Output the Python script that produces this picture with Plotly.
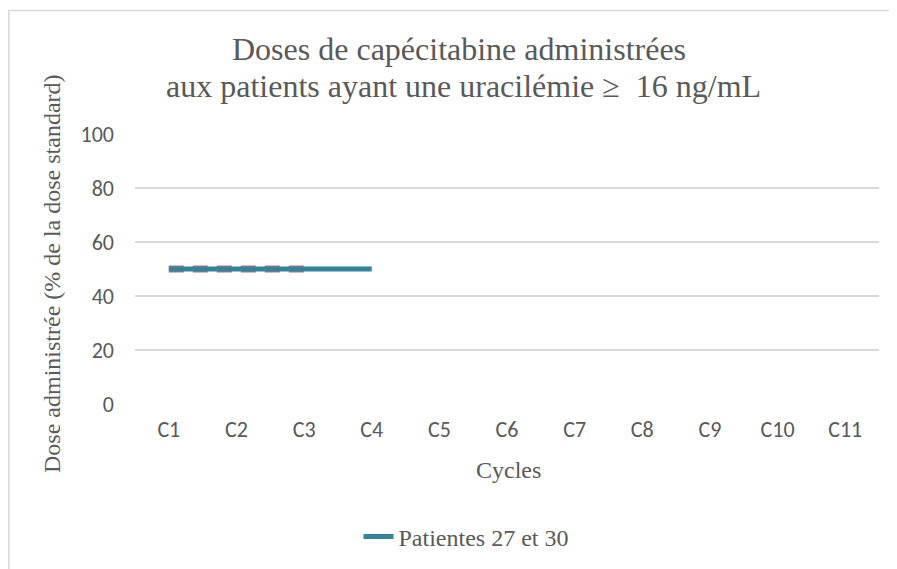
import plotly.graph_objects as go

cycles = ["C1", "C2", "C3", "C4", "C5", "C6", "C7", "C8", "C9", "C10", "C11"]
patientes_27_30 = [50, 50, 50, 50, None, None, None, None, None, None, None]
serie_pointillee = [50, 50, 50, None, None, None, None, None, None, None, None]
y_ticks = [0, 20, 40, 60, 80, 100]

title_lines = ["Doses de capécitabine administrées",
               "aux patients ayant une uracilémie ≥  16 ng/mL"]
y_title = "Dose administrée (% de la dose standard)"
x_title = "Cycles"

serif = "Liberation Serif, Times New Roman, serif"
sans = "Carlito, Calibri, Lato, Liberation Sans, sans-serif"
grey = "#595959"

W, H = 897, 569
L, R, T, B = 127, 26, 126, 173
PW, PH = W - L - R, H - T - B


def px(x):
    return (x - L) / PW


def py(y):
    return (H - B - y) / PH


fig = go.Figure()
fig.add_trace(go.Scatter(
    x=cycles, y=serie_pointillee, mode="lines", showlegend=False,
    line=dict(color="#c46a7e", width=7, dash="15px,9px"),
))
fig.add_trace(go.Scatter(
    x=cycles, y=patientes_27_30, mode="lines", name="Patientes 27 et 30",
    line=dict(color="#31849b", width=5),
))

annotations = [
    dict(text=title_lines[0], x=px(451), y=py(41), xref="paper", yref="paper",
         xanchor="center", yanchor="middle", showarrow=False,
         font=dict(family=serif, size=32, color=grey)),
    dict(text=title_lines[1], x=px(455), y=py(78), xref="paper", yref="paper",
         xanchor="center", yanchor="middle", showarrow=False,
         font=dict(family=serif, size=32, color=grey)),
    dict(text=y_title, x=px(44), y=py(266), xref="paper", yref="paper",
         xanchor="center", yanchor="middle", showarrow=False, textangle=-90,
         font=dict(family=serif, size=24, color=grey)),
    dict(text=x_title, x=px(500), y=py(462), xref="paper", yref="paper",
         xanchor="center", yanchor="middle", showarrow=False,
         font=dict(family=serif, size=24, color=grey)),
]

fig.update_layout(
    width=W, height=H,
    paper_bgcolor="white", plot_bgcolor="white",
    margin=dict(l=L, r=R, t=T, b=B),
    xaxis=dict(
        type="category", categoryorder="array", categoryarray=cycles,
        range=[-0.5, 10.5], showgrid=False, zeroline=False, showline=False,
        ticks="", tickfont=dict(family=sans, size=22, color=grey),
        ticklabelstandoff=10,
    ),
    yaxis=dict(
        range=[0, 100], tickvals=y_ticks, showgrid=True, gridcolor="#d9d9d9", gridwidth=1.5,
        zeroline=False, showline=False, ticks="",
        tickfont=dict(family=sans, size=22, color=grey),
        ticklabelstandoff=20,
    ),
    legend=dict(
        orientation="h", x=px(458), xanchor="center", y=py(529), yanchor="middle",
        font=dict(family=serif, size=24, color=grey),
    ),
    annotations=annotations,
    shapes=[dict(
        type="rect", xref="paper", yref="paper",
        x0=px(0.8), x1=px(W + 20), y0=py(H + 20), y1=py(2.5),
        line=dict(color="#d9d9d9", width=1.5), fillcolor="rgba(0,0,0,0)", layer="below",
    )],
)

fig.write_html("out.html")
